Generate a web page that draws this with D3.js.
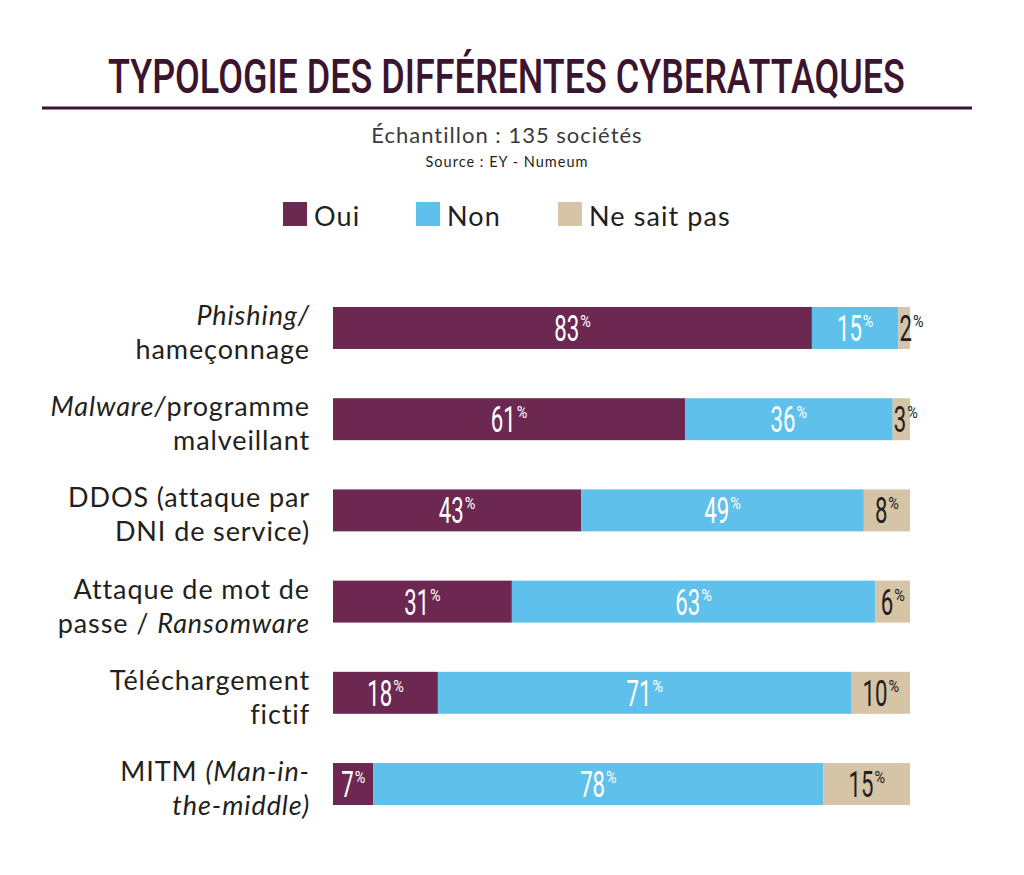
<!DOCTYPE html>
<html>
<head>
<meta charset="utf-8">
<script src="https://cdn.jsdelivr.net/npm/d3@7"></script>
<style>
  html, body { margin: 0; padding: 0; background: #fff; }
  svg { display: block; }
</style>
</head>
<body>
<svg id="chart" width="1024" height="875"></svg>
<script>
// ---------- DATA ----------
const titleText = "TYPOLOGIE DES DIFFÉRENTES CYBERATTAQUES";
const subtitleText = "Échantillon : 135 sociétés";
const sourceText = "Source : EY - Numeum";
const seriesNames = ["Oui", "Non", "Ne sait pas"];
const seriesColors = ["#6d2852", "#5fc0eb", "#d5c4a5"];
const labelColors = ["#ffffff", "#ffffff", "#231f20"];
const categories = ["Phishing", "Malware", "DDOS", "Attaque", "Telechargement", "MITM"];
// category labels: lines of [text, italic]
const categoryLabels = [
  [[["Phishing/", true]], [["hameçonnage", false]]],
  [[["Malware/", true], ["programme", false]], [["malveillant", false]]],
  [[["DDOS (attaque par", false]], [["DNI de service)", false]]],
  [[["Attaque de mot de", false]], [["passe / ", false], ["Ransomware", true]]],
  [[["Téléchargement", false]], [["fictif", false]]],
  [[["MITM ", false], ["(Man-in-", true]], [["the-middle)", true]]]
];
const ouiValues = [83, 61, 43, 31, 18, 7];
const nonValues = [15, 36, 49, 63, 71, 78];
const nspValues = [2, 3, 8, 6, 10, 15];

// ---------- LAYOUT ----------
const svg = d3.select("#chart");
const bodyFont = "Lato, 'Open Sans', sans-serif";
const numFont = "Roboto, 'DejaVu Sans', sans-serif";

// Title (condensed by horizontal scaling)
const titleG = svg.append("g");
const title = titleG.append("text")
  .attr("x", 0).attr("y", 0)
  .attr("font-family", numFont)
  .attr("font-weight", 500)
  .attr("font-size", 49)
  .attr("fill", "#3b1530")
  .text(titleText);
const tw = title.node().getComputedTextLength();
const tsx = 797 / tw;
titleG.attr("transform", `translate(108,93) scale(${tsx},1)`);

svg.append("line")
  .attr("x1", 42).attr("x2", 972)
  .attr("y1", 108).attr("y2", 108)
  .attr("stroke", "#3b1530").attr("stroke-width", 3);

svg.append("text")
  .attr("x", 507).attr("y", 143)
  .attr("text-anchor", "middle")
  .attr("font-family", bodyFont)
  .attr("font-size", 22)
  .attr("letter-spacing", 1)
  .attr("fill", "#3a3a3a")
  .text(subtitleText);

svg.append("text")
  .attr("x", 507).attr("y", 167)
  .attr("text-anchor", "middle")
  .attr("font-family", bodyFont)
  .attr("font-size", 14.5)
  .attr("letter-spacing", 1)
  .attr("fill", "#231f20")
  .text(sourceText);

// Legend
const legendX = [283, 416, 558];
const legend = svg.append("g");
seriesNames.forEach((name, i) => {
  legend.append("rect")
    .attr("x", legendX[i]).attr("y", 202)
    .attr("width", 24).attr("height", 24)
    .attr("fill", seriesColors[i]);
  legend.append("text")
    .attr("x", legendX[i] + 31).attr("y", 226)
    .attr("font-family", bodyFont)
    .attr("font-size", 27)
    .attr("letter-spacing", 1.1)
    .attr("fill", "#231f20")
    .text(name);
});

// Data table
const rows = categories.map((c, i) => ({
  cat: c,
  label: categoryLabels[i],
  vals: [ouiValues[i], nonValues[i], nspValues[i]]
}));

const x = d3.scaleLinear().domain([0, 100]).range([333, 910]);
const y = d3.scaleBand().domain(categories).range([307, 805])
  .paddingInner(0.54).paddingOuter(0);

const barsG = svg.append("g");
rows.forEach(r => {
  const total = d3.sum(r.vals);
  let cum = 0;
  const y0 = y(r.cat), bh = y.bandwidth(), cy = y0 + bh / 2;
  const segs = r.vals.map((v, k) => {
    const s = { k, v, a: cum / total * 100, b: (cum + v) / total * 100 };
    cum += v;
    return s;
  });
  segs.forEach(s => {
    barsG.append("rect")
      .attr("x", x(s.a)).attr("y", y0)
      .attr("width", x(s.b) - x(s.a)).attr("height", bh)
      .attr("fill", seriesColors[s.k]);
  });
  segs.forEach(s => {
    const sx = 0.6;
    const g = barsG.append("g");
    const num = g.append("text")
      .attr("transform", `scale(${sx},1)`)
      .attr("font-family", numFont)
      .attr("font-weight", 400)
      .attr("font-size", 37)
      .attr("fill", labelColors[s.k])
      .text(String(s.v));
    const nw = num.node().getComputedTextLength() * sx;
    const pct = g.append("text")
      .attr("transform", `translate(${nw + 1},-14) scale(0.85,1)`)
      .attr("font-family", numFont)
      .attr("font-weight", 400)
      .attr("font-size", 17)
      .attr("fill", labelColors[s.k])
      .text("%");
    const pw = pct.node().getComputedTextLength() * 0.85;
    const w = nw + 1 + pw;
    const segStart = x(s.a), segEnd = x(s.b);
    let lx = (segStart + segEnd) / 2 - w / 2;
    if (lx < segStart + 1) lx = segStart + 1;
    g.attr("transform", `translate(${lx},${cy + 13})`);
  });

  // category label
  const lbl = svg.append("text")
    .attr("text-anchor", "end")
    .attr("font-family", bodyFont)
    .attr("font-size", 27)
    .attr("letter-spacing", 0.9)
    .attr("fill", "#231f20");
  r.label.forEach((line, li) => {
    line.forEach((part, pi) => {
      const t = lbl.append("tspan").text(part[0])
        .attr("font-style", part[1] ? "italic" : "normal");
      if (pi === 0) t.attr("x", 310).attr("y", cy - 3 + li * 34);
    });
  });
});
</script>
</body>
</html>
